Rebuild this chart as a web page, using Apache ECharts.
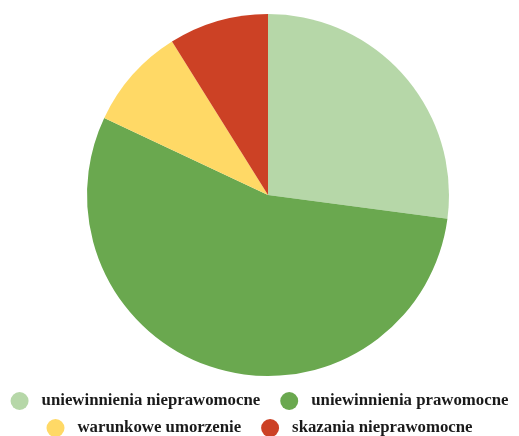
<!DOCTYPE html>
<html><head><meta charset="utf-8">
<script src="https://cdn.jsdelivr.net/npm/echarts@6/dist/echarts.min.js"></script>
<style>html,body{margin:0;padding:0;background:#fff}#c{width:519px;height:436px}</style>
</head><body><div id="c"></div>
<script>
const categories = ['uniewinnienia nieprawomocne','uniewinnienia prawomocne','warunkowe umorzenie','skazania nieprawomocne'];
const values = [27.1, 54.9, 9.1, 8.9];
const colors = ['#b6d7a8','#6aa84f','#ffd966','#cc4125'];
const legendRows = [categories.slice(0,2), categories.slice(2,4)];
const legendBase = {
  left:'center', padding:0, orient:'horizontal',
  icon:'circle', itemWidth:18, itemHeight:18, itemGap:20,
  textStyle:{fontFamily:'Liberation Serif', fontWeight:'bold', fontSize:16.8, color:'#1a1a1a', padding:[0,0,0,8], lineHeight:20}
};
const chart = echarts.init(document.getElementById('c'));
chart.setOption({
  animation:false,
  color: colors,
  legend:[
    Object.assign({}, legendBase, {top:391, data: legendRows[0]}),
    Object.assign({}, legendBase, {top:418, data: legendRows[1]})
  ],
  series:[{
    type:'pie', center:[268,195], radius:181, startAngle:90, clockwise:true,
    label:{show:false}, labelLine:{show:false},
    itemStyle:{borderWidth:0},
    data: categories.map((n,i)=>({name:n,value:values[i]}))
  }]
});
</script></body></html>
